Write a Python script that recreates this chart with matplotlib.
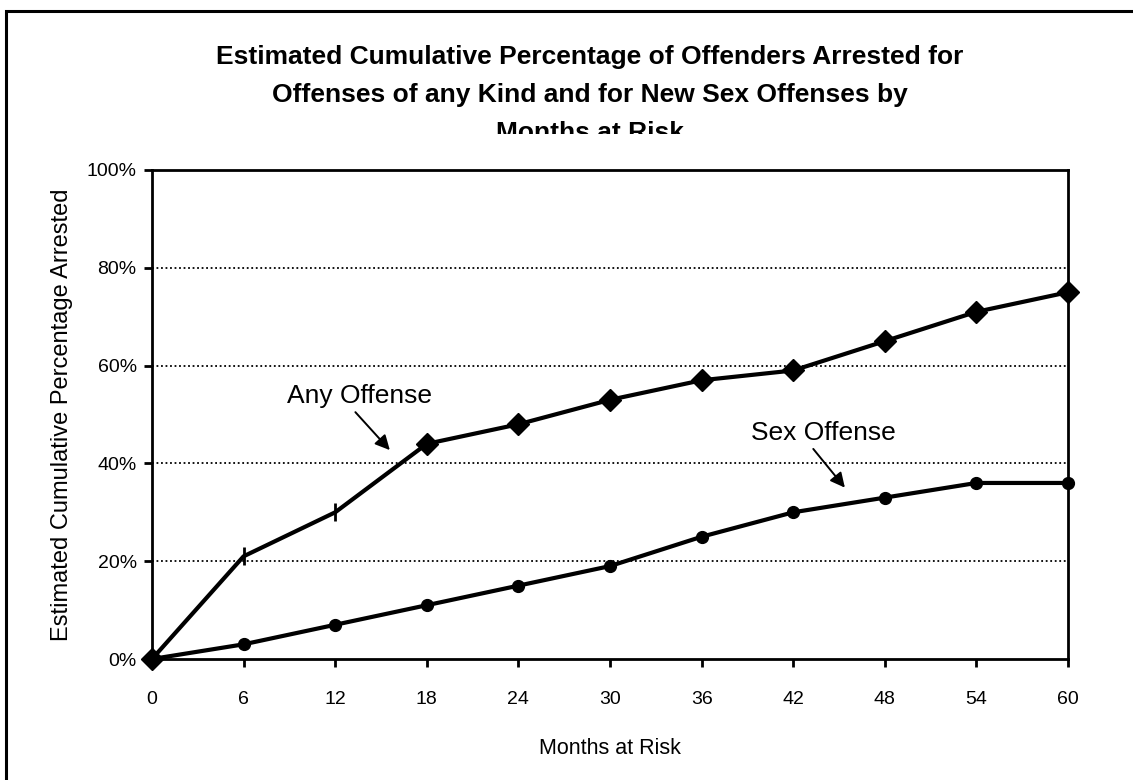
import matplotlib
matplotlib.use("Agg")
import matplotlib.pyplot as plt
from matplotlib.patches import Rectangle

plt.rcParams['font.family'] = ['Liberation Sans', 'DejaVu Sans']

months = [0, 6, 12, 18, 24, 30, 36, 42, 48, 54, 60]
any_offense = [0, 21, 30, 44, 48, 53, 57, 59, 65, 71, 75]
sex_offense = [0, 3, 7, 11, 15, 19, 25, 30, 33, 36, 36]
y_ticks = [0, 20, 40, 60, 80, 100]
title_lines = ["Estimated Cumulative Percentage of Offenders Arrested for",
               "Offenses of any Kind and for New Sex Offenses by",
               "Months at Risk"]

W, H = 1133, 780
fig = plt.figure(figsize=(W / 100, H / 100), dpi=100)
ax = fig.add_axes([152 / W, 1 - 659 / H, 916 / W, 489 / H])

# outer frame (only top and left edges show in the reference)
fig.add_artist(Rectangle((6 / W, -0.2), 1.2, 1.2 - 11 / H, transform=fig.transFigure,
                         fill=False, edgecolor='black', linewidth=2.2, zorder=0))

# title, third line cut off like the original
for i, line in enumerate(title_lines):
    fig.text(590 / W, 1 - (64 + 38 * i) / H, line, ha='center', va='baseline',
             fontsize=19, fontweight='bold')
fig.add_artist(Rectangle((0.2, 1 - 162 / H), 0.6, 28 / H, transform=fig.transFigure,
                         facecolor='white', edgecolor='none', zorder=5))

# series
ax.plot(months, sex_offense, color='black', lw=3, marker='o', ms=8.5, zorder=3, clip_on=False)
ax.plot(months, any_offense, color='black', lw=3, zorder=3, clip_on=False)
diamond_idx = [i for i in range(len(months)) if months[i] not in (6, 12)]
ax.plot([months[i] for i in diamond_idx], [any_offense[i] for i in diamond_idx],
        ls='none', color='black', marker='D', ms=11.5, zorder=4, clip_on=False)
ax.plot(months[1:3], any_offense[1:3], ls='none', color='black', marker='|',
        ms=13, mew=2, zorder=4, clip_on=False)

ax.set_xlim(0, 60)
ax.set_ylim(0, 100)
ax.set_xticks(months)
ax.set_yticks(y_ticks)
ax.set_yticklabels([f"{v}%" for v in y_ticks])
ax.tick_params(axis='x', direction='out', length=6, width=2, pad=17, labelsize=14)
ax.tick_params(axis='y', direction='out', length=6, width=2, pad=5, labelsize=14)
for s in ax.spines.values():
    s.set_linewidth(2)
for v in y_ticks[1:-1]:
    ax.axhline(v, color='black', lw=1.3, ls=(0, (1, 1.5)), zorder=1)

ax.set_xlabel("Months at Risk", fontsize=15.5)
ax.set_ylabel("Estimated Cumulative Percentage Arrested", fontsize=17)
ax.xaxis.set_label_coords(0.5, (659 - 748) / 489)
ax.xaxis.label.set_verticalalignment('center')
ax.yaxis.set_label_coords((62 - 152) / 916, 0.5)
ax.yaxis.label.set_verticalalignment('center')

# annotations
ax.text(13.6, 53.8, "Any Offense", fontsize=19, ha='center', va='center')
ax.annotate("", xy=(15.7, 42.3), xytext=(13.2, 50.9),
            arrowprops=dict(arrowstyle='-|>', color='black', lw=1.4, mutation_scale=22))
ax.text(44.0, 46.2, "Sex Offense", fontsize=19, ha='center', va='center')
ax.annotate("", xy=(45.5, 34.6), xytext=(43.2, 43.4),
            arrowprops=dict(arrowstyle='-|>', color='black', lw=1.4, mutation_scale=22))

fig.savefig("out.png", dpi=100)
